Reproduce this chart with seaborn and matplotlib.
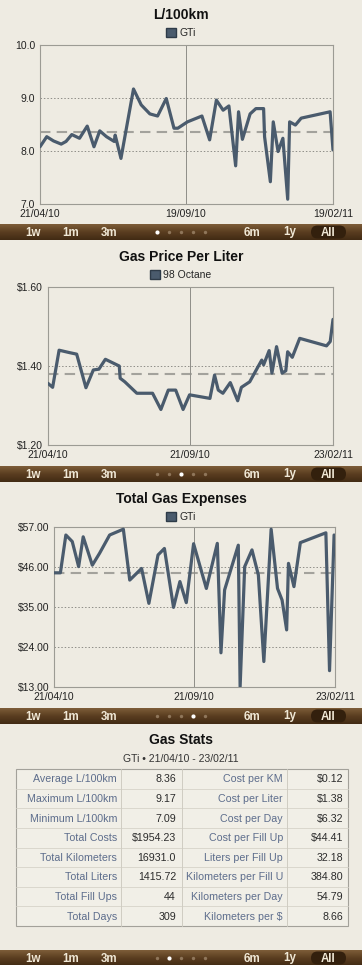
import matplotlib
matplotlib.use('Agg')
import numpy as np
import matplotlib.pyplot as plt
import seaborn as sns
from matplotlib.colors import LinearSegmentedColormap
from matplotlib.patches import Rectangle, FancyBboxPatch, Patch

W, H = 362, 965

# ---- data (days counted from 21/04/10) ----
eco_days = [0, 7, 14, 22, 27, 33, 41, 49, 56, 62, 69, 77, 78, 84, 97, 105, 114, 122, 131, 139,
            143, 153, 168, 176, 183, 190, 196, 203, 206, 210, 218, 224, 232, 233, 239, 242, 247, 252, 257, 259,
            265, 271, 301, 304]
eco_vals = [8.08, 8.27, 8.19, 8.13, 8.18, 8.31, 8.24, 8.47, 8.08, 8.38, 8.27, 8.18, 8.30, 7.86, 9.17, 8.87, 8.70, 8.66, 8.99, 8.43,
            8.43, 8.55, 8.66, 8.21, 8.96, 8.77, 8.85, 7.72, 8.74, 8.22, 8.70, 8.80, 8.80, 8.27, 7.42, 8.55, 7.99, 8.24, 7.09, 8.55,
            8.49, 8.62, 8.74, 8.02]
eco_mean = 8.36
eco_yticks = [7.0, 8.0, 9.0, 10.0]
eco_xticks = [0, 151, 304]
eco_xlabels = ['21/04/10', '19/09/10', '19/02/11']

price_days = [0, 5, 12, 23, 31, 41, 49, 55, 62, 77, 78, 83, 96, 113, 122, 130, 138, 146, 153, 175,
              180, 184, 189, 197, 205, 209, 218, 226, 231, 233, 239, 242, 247, 253, 257, 259, 264, 272, 301, 305,
              308]
price_vals = [1.356, 1.346, 1.440, 1.434, 1.430, 1.345, 1.390, 1.392, 1.417, 1.400, 1.369, 1.360, 1.331, 1.331, 1.290, 1.339, 1.339, 1.290, 1.327, 1.318,
              1.377, 1.339, 1.331, 1.358, 1.312, 1.346, 1.360, 1.394, 1.415, 1.403, 1.439, 1.382, 1.449, 1.382, 1.388, 1.436, 1.422, 1.470, 1.451, 1.462,
              1.518]
price_mean = 1.38
price_yticks = [1.20, 1.40, 1.60]
price_xticks = [0, 153, 308]
price_xlabels = ['21/04/10', '21/09/10', '23/02/11']

cost_days = [0, 7, 13, 20, 27, 32, 42, 50, 61, 76, 83, 96, 104, 114, 121, 131, 138, 145, 153, 167,
             179, 183, 187, 202, 204, 209, 217, 224, 230, 238, 245, 250, 255, 257, 263, 270, 298, 302, 307]
cost_vals = [44.4, 44.4, 54.8, 53.0, 46.1, 54.3, 46.5, 49.8, 54.8, 56.4, 42.4, 45.6, 36.0, 49.3, 51.1, 34.9, 42.0, 36.2, 52.4, 40.1,
             52.5, 22.4, 39.7, 52.0, 13.1, 46.1, 50.7, 43.8, 20.0, 56.4, 40.1, 36.9, 28.7, 47.0, 40.6, 52.7, 55.4, 17.5, 54.8]
cost_mean = 44.41
cost_yticks = [13, 24, 35, 46, 57]
cost_xticks = [0, 153, 308]
cost_xlabels = ['21/04/10', '21/09/10', '23/02/11']

stat_names_l = ['Average L/100km', 'Maximum L/100km', 'Minimum L/100km', 'Total Costs',
                'Total Kilometers', 'Total Liters', 'Total Fill Ups', 'Total Days']
stat_vals_l = ['8.36', '9.17', '7.09', '$1954.23', '16931.0', '1415.72', '44', '309']
stat_names_r = ['Cost per KM', 'Cost per Liter', 'Cost per Day', 'Cost per Fill Up',
                'Liters per Fill Up', 'Kilometers per Fill U', 'Kilometers per Day', 'Kilometers per $']
stat_vals_r = ['$0.12', '$1.38', '$6.32', '$44.41', '32.18', '384.80', '54.79', '8.66']

buttons = ['1w', '1m', '3m', '6m', '1y', 'All']

# ---- style ----
BG = '#eeebe2'
LINE = '#4a5b6d'
sns.set_theme(style='white', rc={'figure.facecolor': BG, 'axes.facecolor': BG})
plt.rcParams['font.family'] = ['Liberation Sans', 'DejaVu Sans']

fig = plt.figure(figsize=(W / 100, H / 100), dpi=100)


def box(x0, y0, x1, y1):
    return [x0 / W, 1 - y1 / H, (x1 - x0) / W, (y1 - y0) / H]


bg = fig.add_axes([0, 0, 1, 1], zorder=0)
bg.set_xlim(0, W)
bg.set_ylim(H, 0)
bg.axis('off')


def chart(rect, days, vals, mean, yticks, yfmt, xticks, xlabels, title, series, title_y, leg_y):
    ax = fig.add_axes(box(*rect), zorder=2)
    ax.set_facecolor(BG)
    for g in yticks[1:-1]:
        ax.axhline(g, color='#8f8e88', lw=0.7, ls=(0, (1.5, 2)), zorder=1)
    ax.axhline(mean, color='#a3a29c', lw=1.5, ls=(0, (5, 3)), zorder=1)
    ax.axvline(xticks[1], color='#8f8e88', lw=0.7, zorder=1)
    sns.lineplot(x=days, y=vals, ax=ax, color=LINE, lw=2.3, legend=False, zorder=3)
    ax.set_xlim(xticks[0], xticks[-1])
    ax.set_ylim(yticks[0], yticks[-1])
    ax.set_yticks(yticks, [yfmt.format(v) for v in yticks])
    ax.set_xticks(xticks, xlabels)
    ax.tick_params(length=0, labelsize=7.5, colors='#222222', pad=3.5)
    ax.set_xlabel('')
    ax.set_ylabel('')
    for s in ax.spines.values():
        s.set_color('#9c9b94')
        s.set_linewidth(0.8)
    bg.text(W / 2, title_y, title, ha='center', va='center', fontsize=10, fontweight='bold', color='#111111')
    fig.legend(handles=[Patch(facecolor=LINE, edgecolor='#2e3b48', label=series)],
               loc='center', bbox_to_anchor=(0.5, 1 - leg_y / H), frameon=False,
               handlelength=0.9, handleheight=0.9, handletextpad=0.35, fontsize=7.5,
               borderpad=0, borderaxespad=0)
    return ax


chart((40, 45, 333, 204), eco_days, eco_vals, eco_mean, eco_yticks, '{:.1f}',
      eco_xticks, eco_xlabels, 'L/100km', 'GTi', 15, 33)
chart((48, 287, 333, 445), price_days, price_vals, price_mean, price_yticks, '${:.2f}',
      price_xticks, price_xlabels, 'Gas Price Per Liter', '98 Octane', 257, 275)
chart((54, 527, 335, 687), cost_days, cost_vals, cost_mean, cost_yticks, '${:.2f}',
      cost_xticks, cost_xlabels, 'Total Gas Expenses', 'GTi', 499, 517)

# ---- toolbars ----
brown = LinearSegmentedColormap.from_list('brown', ['#7d5d38', '#5a3d20', '#422b14'])
grad = np.linspace(0, 1, 32).reshape(-1, 1)


def toolbar(y0, y1, active):
    bg.imshow(grad, cmap=brown, extent=(0, W, y1, y0), aspect='auto', origin='upper', zorder=1)
    yc = (y0 + y1) / 2
    bg.add_patch(FancyBboxPatch((311, y0 + 1.5), 35, y1 - y0 - 3,
                                boxstyle='round,pad=0,rounding_size=6.5',
                                facecolor='#33200d', edgecolor='none', zorder=2))
    for name, x in zip(buttons, [33, 71, 109, 252, 290, 328]):
        bg.text(x, yc + 0.5, name, ha='center', va='center', fontsize=8.3,
                fontweight='bold', color='#f0e8d6', zorder=3)
    for i in range(5):
        bg.scatter(157 + 12 * i, yc, s=9 if i == active else 6,
                   color='#ffffff' if i == active else '#8f765a', zorder=3, lw=0)


toolbar(224, 240, 0)
toolbar(466, 482, 2)
toolbar(708, 724, 3)
toolbar(950, 966, 1)
bg.set_xlim(0, W)
bg.set_ylim(H, 0)

# ---- stats table ----
bg.text(W / 2, 740, 'Gas Stats', ha='center', va='center', fontsize=10, fontweight='bold', color='#111111')
bg.text(W / 2, 759, 'GTi \u2022 21/04/10 - 23/02/11', ha='center', va='center', fontsize=7.5, color='#333333')

t0, t1 = 769, 926
rh = (t1 - t0) / len(stat_names_l)
bg.add_patch(Rectangle((16, t0), 332, t1 - t0, facecolor='#f1efe7', edgecolor='#a3a19a', lw=0.8, zorder=1))
for k in range(1, len(stat_names_l)):
    bg.plot([16, 348], [t0 + k * rh] * 2, color='#d6d3c9', lw=0.6, zorder=2)
for xv in [121, 182, 287]:
    bg.plot([xv, xv], [t0, t1], color='#cfccc2', lw=0.7, zorder=2)
for k in range(len(stat_names_l)):
    yc = t0 + (k + 0.5) * rh + 0.5
    bg.text(117, yc, stat_names_l[k], ha='right', va='center', fontsize=7.7, color='#5d6d8c', zorder=3)
    bg.text(176, yc, stat_vals_l[k], ha='right', va='center', fontsize=7.7, color='#2b2b2b', zorder=3)
    bg.text(283, yc, stat_names_r[k], ha='right', va='center', fontsize=7.7, color='#5d6d8c', zorder=3)
    bg.text(343, yc, stat_vals_r[k], ha='right', va='center', fontsize=7.7, color='#2b2b2b', zorder=3)

fig.savefig('out.png', dpi=100, facecolor=BG)
